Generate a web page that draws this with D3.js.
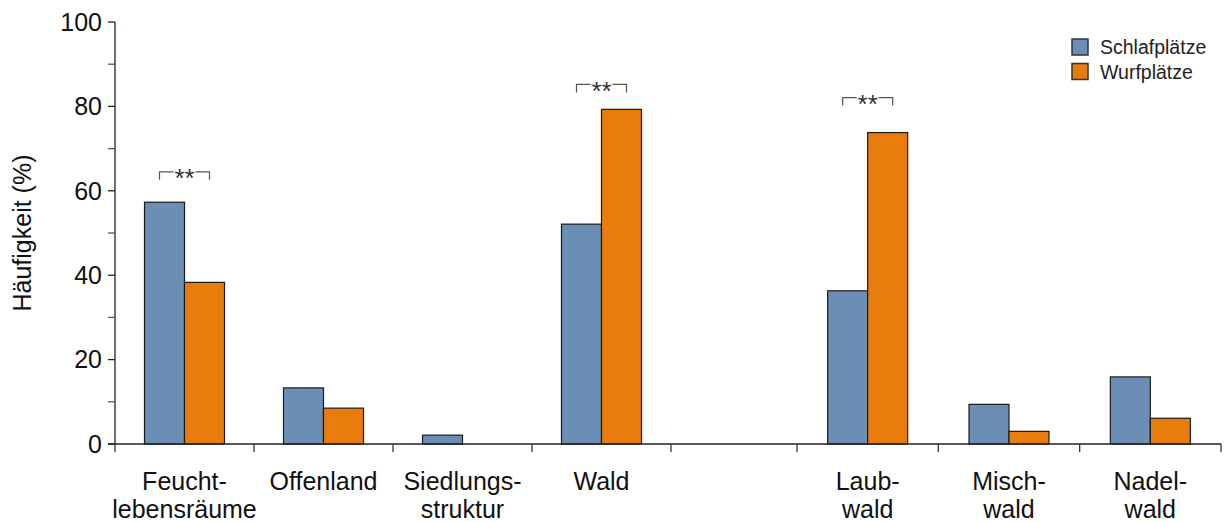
<!DOCTYPE html>
<html>
<head>
<meta charset="utf-8">
<script src="https://cdn.jsdelivr.net/npm/d3@7"></script>
<style>
  html, body { margin: 0; padding: 0; background: #fff; }
  svg { display: block; font-family: "Liberation Sans", Arial, sans-serif; }
</style>
</head>
<body>
<svg id="chart" width="1226" height="522"></svg>
<script>
// ---- data ----
const habitatCategories = ["Feucht-\nlebensräume", "Offenland", "Siedlungs-\nstruktur", "Wald"];
const forestCategories = ["Laub-\nwald", "Misch-\nwald", "Nadel-\nwald"];
const seriesNames = ["Schlafplätze", "Wurfplätze"];
const schlafplaetze = [57.3, 13.3, 2.1, 52.1, 36.3, 9.4, 15.9];
const wurfplaetze   = [38.3, 8.5, 0, 79.3, 73.8, 3.0, 6.1];
const yTicks = [0, 20, 40, 60, 80, 100];
const yMinorTicks = [10, 30, 50, 70, 90];
const sigCategories = ["Feucht-\nlebensräume", "Wald", "Laub-\nwald"];
const sigLevels = [64.5, 85.2, 82.1];
const sigLabels = ["**", "**", "**"];
const yLabel = "Häufigkeit (%)";

// ---- layout ----
const categories = habitatCategories.concat(forestCategories);
const colors = { "Schlafplätze": "#6b8eb5", "Wurfplätze": "#e87d0e" };
const svg = d3.select("#chart");
const x0 = 115, x1r = 1221, yTop = 22, yBot = 444;

const xA = d3.scaleBand().domain(habitatCategories).range([x0, 671]).padding(0);
const xB = d3.scaleBand().domain(forestCategories).range([797, x1r]).padding(0);
const xOf = c => (habitatCategories.includes(c) ? xA(c) : xB(c));
const bwOf = c => (habitatCategories.includes(c) ? xA.bandwidth() : xB.bandwidth());
const xs = d3.scaleBand().domain(seriesNames).range([-40, 40]).padding(0);
const y = d3.scaleLinear().domain([0, 100]).range([yBot, yTop]);

const seriesData = { "Schlafplätze": schlafplaetze, "Wurfplätze": wurfplaetze };

// bars
const barData = [];
categories.forEach((c, i) => {
  seriesNames.forEach(s => {
    const v = seriesData[s][i];
    if (v != null && v > 0) barData.push({ c, s, v });
  });
});
svg.append("g").selectAll("rect").data(barData).join("rect")
  .attr("x", d => xOf(d.c) + bwOf(d.c) / 2 + xs(d.s))
  .attr("y", d => y(d.v))
  .attr("width", xs.bandwidth())
  .attr("height", d => y(0) - y(d.v))
  .attr("fill", d => colors[d.s])
  .attr("stroke", "#1a1a1a")
  .attr("stroke-width", 1.2);

// y axis
const yAxis = svg.append("g").attr("transform", `translate(${x0},0)`);
yAxis.append("line").attr("x1", 0).attr("x2", 0).attr("y1", y(100)).attr("y2", y(0))
  .attr("stroke", "#222").attr("stroke-width", 1.3);
yAxis.selectAll("line.maj").data(yTicks).join("line").attr("class", "maj")
  .attr("x1", -7).attr("x2", 0).attr("y1", d => y(d)).attr("y2", d => y(d))
  .attr("stroke", "#222").attr("stroke-width", 1.3);
yAxis.selectAll("line.min").data(yMinorTicks).join("line").attr("class", "min")
  .attr("x1", -7).attr("x2", 0).attr("y1", d => y(d)).attr("y2", d => y(d))
  .attr("stroke", "#555").attr("stroke-width", 1.3);
yAxis.selectAll("text").data(yTicks).join("text")
  .attr("x", -13).attr("y", d => y(d)).attr("dy", "0.35em")
  .attr("text-anchor", "end").attr("font-size", 25).attr("fill", "#111")
  .text(d => d);

// y label
svg.append("text")
  .attr("transform", `translate(31,233) rotate(-90)`)
  .attr("text-anchor", "middle").attr("font-size", 25).attr("fill", "#111")
  .text(yLabel);

// x axis
const xAxis = svg.append("g");
xAxis.append("line").attr("x1", x0 - 7).attr("x2", x1r).attr("y1", y(0)).attr("y2", y(0))
  .attr("stroke", "#222").attr("stroke-width", 1.3);
const boundaries = categories.map(c => xOf(c)).concat([xA.range()[1], xB.range()[1]]);
xAxis.selectAll("line.tk").data(boundaries).join("line").attr("class", "tk")
  .attr("x1", d => d).attr("x2", d => d).attr("y1", y(0)).attr("y2", y(0) + 8)
  .attr("stroke", "#333").attr("stroke-width", 1.3);
const lbl = xAxis.selectAll("text").data(categories).join("text")
  .attr("text-anchor", "middle").attr("font-size", 25).attr("fill", "#111")
  .attr("x", d => xOf(d) + bwOf(d) / 2).attr("y", 490);
lbl.each(function(d) {
  const lines = d.split("\n");
  const t = d3.select(this);
  lines.forEach((ln, i) => {
    t.append("tspan").attr("x", xOf(d) + bwOf(d) / 2).attr("dy", i === 0 ? 0 : 28).text(ln);
  });
});

// significance brackets
const sig = svg.append("g");
sigCategories.forEach((c, i) => {
  const cx = xOf(c) + bwOf(c) / 2;
  const yy = y(sigLevels[i]);
  const half = 25, gap = 11, leg = 8;
  const g = sig.append("g").attr("stroke", "#555").attr("stroke-width", 1.2).attr("fill", "none");
  g.append("path").attr("d", `M${cx - gap},${yy}H${cx - half}V${yy + leg}`);
  g.append("path").attr("d", `M${cx + gap},${yy}H${cx + half}V${yy + leg}`);
  sig.append("text").attr("x", cx).attr("y", yy + 15.5)
    .attr("text-anchor", "middle").attr("font-size", 26).attr("fill", "#333")
    .text(sigLabels[i]);
});

// legend
const legend = svg.append("g").attr("transform", "translate(1072,39)");
seriesNames.forEach((s, i) => {
  const g = legend.append("g").attr("transform", `translate(0,${i * 24.5})`);
  g.append("rect").attr("width", 16).attr("height", 16)
    .attr("fill", colors[s]).attr("stroke", "#333").attr("stroke-width", 1.5);
  g.append("text").attr("x", 28).attr("y", 8).attr("dy", "0.36em")
    .attr("font-size", 19.5).attr("fill", "#222").text(s);
});
</script>
</body>
</html>
